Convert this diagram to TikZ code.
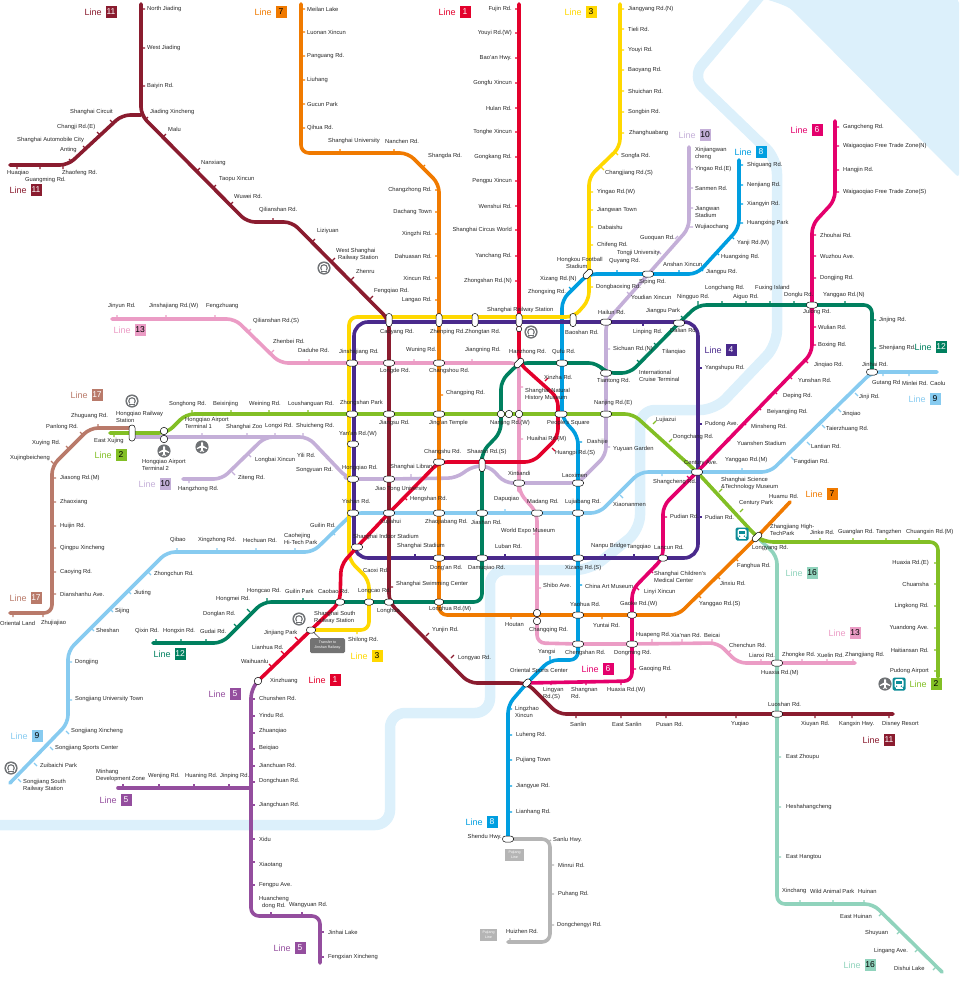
\documentclass[tikz,border=0pt]{standalone}
\usepackage{fontspec}
\setmainfont{Liberation Sans}
\usepackage{xcolor}
\usepackage{tikz}
\usetikzlibrary{positioning}
\definecolor{c1}{HTML}{E3002B}
\definecolor{c2}{HTML}{82BF25}
\definecolor{c3}{HTML}{FFD800}
\definecolor{c4}{HTML}{4A2A8C}
\definecolor{c5}{HTML}{944E9E}
\definecolor{c6}{HTML}{E4006C}
\definecolor{c7}{HTML}{F07A00}
\definecolor{c8}{HTML}{009EE0}
\definecolor{c9}{HTML}{87CBF0}
\definecolor{c10}{HTML}{C4AFD8}
\definecolor{c11}{HTML}{8A1C2F}
\definecolor{c12}{HTML}{00805F}
\definecolor{c13}{HTML}{EB9CC5}
\definecolor{c16}{HTML}{90D3BC}
\definecolor{c17}{HTML}{B97A6A}
\definecolor{cpu}{HTML}{B5B5B5}
\definecolor{cwater}{HTML}{DCF0FB}
\definecolor{cicon}{HTML}{6E7174}
\definecolor{cbus}{HTML}{0C8C97}
\pgfdeclarelayer{water}
\pgfdeclarelayer{lines}
\pgfsetlayers{water,lines,main}
\tikzset{
	metro/.style={line width=3.6pt,line cap=round,line join=round,rounded corners=8pt},
	tick/.style={line width=1.3pt},
	xbase/.style={draw=black,fill=white,line width=.5pt,inner sep=0pt,rounded corners=2.8pt},
	xwide/.style={xbase,minimum width=11pt,minimum height=6pt},
	xtall/.style={xbase,minimum width=6pt,minimum height=13pt},
	xtilt/.style={xwide,rotate=45},
	xring/.style={draw=black,fill=white,line width=.5pt,circle,inner sep=0pt,minimum size=7.5pt},
	stnw/.style={font=\fontsize{5.8}{7}\selectfont,inner sep=0pt,align=left,anchor=west,text=black!85},
	stne/.style={stnw,anchor=east,align=right},
	tagbox/.style={font=\fontsize{8.5}{8.5}\selectfont,inner sep=0pt,minimum width=11pt,minimum height=12pt},
	tagtxt/.style={font=\fontsize{9}{9}\selectfont,inner sep=0pt},
	note/.style={font=\fontsize{3.6}{5}\selectfont,text=white,inner sep=0pt,align=center}
}
\begin{document}
\begin{tikzpicture}[x=1pt,y=-1pt]
	\useasboundingbox (0,0) rectangle (959,983);
	%
	\node[xtall] (caoyang) at (389,320) {};
	\node[xtall] (zhenping) at (439,320) {};
	\node[xtall] (zhongtan) at (475,320) {};
	\node[xtall] (shrail) at (519,320) {};
	\node[xtall] (baoshan) at (573,320) {};
	\node[xring,minimum size=5.5pt] (shrailb) at (519,329) {};
	\node[xwide] (hailun) at (606,322) {};
	\node[xwide] (dalian) at (679,323) {};
	\node[xwide] (jinsha) at (352,363) {};
	\node[xwide] (longde) at (389,363) {};
	\node[xwide] (changshou) at (439,363) {};
	\node[xtilt] (hanzhong) at (519,363) {};
	\node[xwide] (qufu) at (562,363) {};
	\node[xwide] (tiantong) at (606,373) {};
	\node[xwide] (zhongshan) at (352,414) {};
	\node[xwide] (jiangsu) at (389,414) {};
	\node[xwide] (jingan) at (439,414) {};
	\node[xring] (nanjingwa) at (501,414) {};
	\node[xring] (nanjingwb) at (509,414) {};
	\node[xring] (nanjingwc) at (519,414) {};
	\node[xwide,minimum width=12pt] (peoples) at (561,414) {};
	\node[xwide] (nanjinge) at (606,414) {};
	\node[xwide] (yanan) at (353,444) {};
	\node[xwide] (changshu) at (439,462) {};
	\node[xtall] (shaanxi) at (482,465) {};
	\node[xwide] (hongqiaord) at (353,479) {};
	\node[xwide] (jiaotong) at (389,479) {};
	\node[xwide] (xintiandi) at (519,483) {};
	\node[xwide] (laoximen) at (578,483) {};
	\node[xwide] (yishan) at (353,513) {};
	\node[xwide] (xujiahui) at (389,513) {};
	\node[xwide] (zhaojiabang) at (439,513) {};
	\node[xwide] (jiashan) at (482,513) {};
	\node[xwide] (madang) at (537,513) {};
	\node[xwide] (lujiabang) at (578,513) {};
	\node[xwide] (indoor) at (357,547) {};
	\node[xwide] (dongan) at (439,558) {};
	\node[xwide] (damuqiao) at (482,558) {};
	\node[xwide] (xizangs) at (578,558) {};
	\node[xwide,minimum width=9pt] (caobao) at (340,602) {};
	\node[xwide,minimum width=9pt] (longcao) at (369,602) {};
	\node[xwide,minimum width=9pt] (longhua) at (389,602) {};
	\node[xwide,minimum width=9pt] (longhuam) at (439,602) {};
	\node[xring] (houtan) at (537,613) {};
	\node[xring] (changqing) at (537,621) {};
	\node[xwide] (yaohua) at (578,615) {};
	\node[xwide,minimum width=9pt] (gaoke) at (632,615) {};
	\node[xwide] (century) at (697,472) {};
	\node[xwide,minimum width=9pt] (lancun) at (663,558) {};
	\node[xtilt] (longyang) at (757,537) {};
	\node[xwide] (julong) at (812,305) {};
	\node[xwide] (jinhai) at (872,372) {};
	\node[xtilt] (hongkou) at (588,274) {};
	\node[xwide] (siping) at (648,274) {};
	\node[xtall,minimum height=16pt] (hqrail) at (132,433) {};
	\node[xring] (hqta) at (164,431) {};
	\node[xring] (hqtb) at (164,439) {};
	\node[xring] (xinzhuang) at (258,681) {};
	\node[xwide,minimum width=9pt] (jinjiang) at (311,630) {};
	\node[xwide] (chengshan) at (578,644) {};
	\node[xwide] (dongming) at (632,644) {};
	\node[xtilt,minimum width=9pt] (oriental) at (527,683) {};
	\node[xwide] (huaxiam) at (777,663) {};
	\node[xwide] (luoshan) at (777,714) {};
	\node[xwide] (shendu) at (508,839) {};
	%
	\coordinate (onetop) at (519,4);
	\coordinate (twowest) at (110,433);
	\coordinate (twoeast) at (938,677);
	\coordinate (threetop) at (620,4);
	\coordinate (fivewest) at (118,788);
	\coordinate (fiveend) at (320,963);
	\coordinate (sixtop) at (835,121);
	\coordinate (seventop) at (301,4);
	\coordinate (sevenend) at (790,502);
	\coordinate (eighttop) at (739,160);
	\coordinate (nineeast) at (937,372);
	\coordinate (nineend) at (10,783);
	\coordinate (tentop) at (689,147);
	\coordinate (tenwest) at (183,479);
	\coordinate (eleventop) at (141,4);
	\coordinate (elevenwest) at (10,165);
	\coordinate (eleveneast) at (893,714);
	\coordinate (twelvewest) at (153,643);
	\coordinate (thirteenwest) at (112,319);
	\coordinate (thirteeneast) at (855,663);
	\coordinate (sixteenend) at (942,972);
	\coordinate (seventeenend) at (10,613);
	\coordinate (pujiangend) at (508,942);
	\coordinate (fournw) at (354,322);
	\coordinate (fourne) at (698,322);
	\coordinate (fourse) at (698,558);
	\coordinate (foursw) at (354,558);
	%
	\begin{pgfonlayer}{water}
		\fill[cwater,rounded corners=4pt] (765,-1) -- (959,-1) -- (959,178) -- (790,8) -- (778,3) -- cycle;
		\draw[cwater,line width=10.5pt,rounded corners=15pt] (760,-4) -- (692,77) -- (777,159) -- (777,345) -- (715,410) -- (640,410) -- (640,530) -- (590,570) -- (490,570) -- (490,713) -- (390,713) -- (390,825) -- (-5,825);
	\end{pgfonlayer}
	%
	\begin{pgfonlayer}{lines}
		\draw[metro,cpu] (shendu.center) -- (550,839) -- (550,942) -- (pujiangend);
		\draw[metro,c16] (longyang.center) -- (777,556) -- (huaxiam.center) -- (luoshan.center) -- (777,904) -- (873,904) -- (sixteenend);
		\draw[metro,c17] ([yshift=5pt]hqrail.center) -- (90,428) -- (52,466) -- (52,613) -- (seventeenend);
		\draw[metro,c9] (nineeast) -- (jinhai.center) -- (770,472) -- (century.center) -- (640,472) -- (599,513) -- (lujiabang.center) -- (madang.center) -- (jiashan.center) -- (zhaojiabang.center) -- (xujiahui.center) -- (yishan.center) -- (313,552) -- (167,552) -- (68,651) -- (68,723) -- (nineend);
		\draw[metro,c10] (tentop) -- (689,228) -- (hailun.center) -- (tiantong.center) -- (nanjinge.center) -- (606,455) -- (laoximen.center) -- (xintiandi.center) -- (505,483) -- (489,466) -- (473,466) -- (456,478) -- (jiaotong.center) -- (hongqiaord.center) -- (347,478) -- (308,437) -- ([yshift=-4pt]hqrail.center);
		\draw[metro,c10] (tenwest) -- (222,479) -- (265,437) -- (290,437);
		\draw[metro,c13] (thirteenwest) -- (235,319) -- (280,363) -- (jinsha.center) -- (longde.center) -- (changshou.center) -- (hanzhong.center) -- (nanjingwc.center) -- (xintiandi.center) -- (519,492) -- (madang.center) -- (houtan.center) -- (changqing.center) -- (537,643) -- (chengshan.center) -- (dongming.center) -- (718,643) -- (738,663) -- (huaxiam.center) -- (thirteeneast);
		\draw[metro,c12] (jinhai.center) -- (872,305) -- (julong.center) -- (698,305) -- (dalian.center) -- (630,373) -- (tiantong.center) -- (597,363) -- (qufu.center) -- (hanzhong.center) -- (501,381) -- (nanjingwa.center) -- (501,432) -- (482,452) -- (shaanxi.center) -- (jiashan.center) -- (damuqiao.center) -- (482,602) -- (longhuam.center) -- (longhua.center) -- (longcao.center) -- (caobao.center) -- (263,602) -- (222,643) -- (twelvewest);
		\draw[metro,c7] (seventop) -- (301,153) -- (408,153) -- (439,184) -- (zhenping.center) -- (changshou.center) -- (jingan.center) -- (changshu.center) -- (zhaojiabang.center) -- (dongan.center) -- (longhuam.center) -- (439,615) -- (gaoke.center) -- (678,615) -- (longyang.center) -- (sevenend);
		\draw[metro,c8] (eighttop) -- (739,228) -- (697,274) -- (siping.center) -- (hongkou.center) -- (562,300) -- (qufu.center) -- (562,418) -- (578,436) -- (laoximen.center) -- (lujiabang.center) -- (xizangs.center) -- (yaohua.center) -- (chengshan.center) -- (578,660) -- (550,660) -- (oriental.center) -- (508,705) -- (shendu.center);
		\draw[metro,c2] (twowest) -- (hqrail.center) -- (167,433) -- (186,414) -- (zhongshan.center) -- (jiangsu.center) -- (jingan.center) -- (nanjingwa.center) -- (nanjingwb.center) -- (nanjingwc.center) -- (peoples.center) -- (nanjinge.center) -- (633,414) -- (century.center) -- (longyang.center) -- (765,542) -- (938,542) -- (twoeast);
		\draw[metro,c3] (jinjiang.center) -- (369,630) -- (longcao.center) -- (369,580) -- (349,560) -- (349,317) -- (574,317) -- (589,300) -- (589,177) -- (620,147) -- (threetop);
		\draw[metro,c4,rounded corners=14pt] (fournw) -- (fourne) -- (fourse) -- (foursw) -- cycle;
		\draw[metro,c11] (eleventop) -- (141,115) -- (247,222) -- (292,222) -- (caoyang.center) -- (longde.center) -- (jiangsu.center) -- (jiaotong.center) -- (xujiahui.center) -- (longhua.center) -- (469,683) -- (oriental.center) -- (558,714) -- (luoshan.center) -- (eleveneast);
		\draw[metro,c11] (elevenwest) -- (68,165) -- (122,115) -- (141,115);
		\draw[metro,c5] (xinzhuang.center) -- (251,690) -- (251,916) -- (320,916) -- (fiveend);
		\draw[metro,c5] (fivewest) -- (251,788);
		\draw[metro,c6] (sixtop) -- (835,200) -- (812,225) -- (julong.center) -- (812,353) -- (century.center) -- (663,506) -- (lancun.center) -- (632,590) -- (gaoke.center) -- (dongming.center) -- (632,681) -- (oriental.center);
		\draw[metro,c1] (onetop) -- (shrail.center) -- (shrailb.center) -- (hanzhong.center) -- (558,398) -- (558,437) -- (533,462) -- (shaanxi.center |- changshu.center) -- (changshu.center) -- (xujiahui.center) -- (indoor.center) -- (341,565) -- (caobao.center) -- (jinjiang.center) -- (xinzhuang.center);
		%
		\draw[tick,c1] \foreach \y in {9,33,58,83,108,132,157,181,206,230,256,281} {(519,\y) -- +(-4,0)} (545,381) -- +(3,-3) (552,448) -- +(3,3) (558,439) -- +(-3,-3) (407,500) -- +(-3,-3) (284,654) -- +(-3,-3) (272,667) -- +(-3,-3) (298,640) -- +(-3,-3);
		\draw[tick,c2] \foreach \x in {192,231,269,308} {(\x,414) -- +(0,-4)} \foreach \x in {820,853,886,919} {(\x,542) -- +(0,-4)} \foreach \y in {563,584,606,628,650,671} {(938,\y) -- +(-4,0)} (114,433) -- +(0,4) (653,424) -- +(3,-3) (669,442) -- +(3,-3) (719,492) -- +(3,-3) (740,512) -- +(3,-3);
		\draw[tick,c3] \foreach \y in {9,29,50,70,91,112,133} {(620,\y) -- +(4,0)} \foreach \y in {192,210,227,245,287} {(589,\y) -- +(4,0)} (615,152) -- +(3,3) (601,167) -- +(3,3) (357,630) -- +(0,4) (356,567) -- +(3,3);
		\draw[tick,c4] \foreach \y in {368,424,517} {(698,\y) -- +(4,0)} \foreach \x in {415,505,605,634} {(\x,558) -- +(0,-4)} (643,322) -- +(0,4);
		\draw[tick,c5] \foreach \y in {699,716,733,749,766,782,805,839,862,885} {(251,\y) -- +(4,0)} \foreach \x in {123,159,194,229} {(\x,788) -- +(0,-4)} \foreach \x in {271,302} {(\x,916) -- +(0,-4)} \foreach \y in {932,957} {(320,\y) -- +(4,0)};
		\draw[tick,c6] \foreach \y in {127,146,170,192} {(835,\y) -- +(4,0)} \foreach \y in {235,256,278,327,345} {(812,\y) -- +(4,0)} \foreach \x/\y in {805/360,789/376,774/391,758/407,743/422,727/438} {(\x,\y) -- +(3,3)} \foreach \x in {551,586,621} {(\x,681) -- +(0,4)} (663,517) -- +(4,0) (632,669) -- +(4,0) (690,479) -- +(-3,-3) (636,587) -- +(3,3) (650,570) -- +(3,3);
		\draw[tick,c7] \foreach \y in {9,32,56,80,104,128} {(301,\y) -- +(4,0)} \foreach \x in {340,394} {(\x,153) -- +(0,-4)} \foreach \y in {190,212,234,256,278,300} {(439,\y) -- +(-4,0)} \foreach \x in {511,602} {(\x,615) -- +(0,4)} (422,168) -- +(3,-3) (439,395) -- +(4,0) (735,558) -- +(3,3) (717,576) -- +(3,3) (698,595) -- +(3,3);
		\draw[tick,c8] \foreach \y in {165,185,204,223} {(739,\y) -- +(4,0)} \foreach \x in {617,679} {(\x,274) -- +(0,-4)} \foreach \y in {735,760,786,812,709} {(508,\y) -- +(4,0)} (731,236) -- +(3,3) (716,252) -- +(3,3) (700,268) -- +(3,3) (572,290) -- +(-3,-3) (578,442) -- +(4,0) (578,585) -- +(4,0) (550,660) -- +(0,-4);
		\draw[tick,c9] \foreach \x in {177,217,256,295} {(\x,552) -- +(0,-4)} \foreach \x/\y in {148/572,128/591,110/609,91/628,66/731,50/747,34/763,18/779,791/457,807/442,822/425,838/409,855/393,332/532,620/495} {(\x,\y) -- +(3,3)} \foreach \y in {662,700} {(68,\y) -- +(4,0)} \foreach \x in {883,909} {(\x,372) -- +(0,4)} (742,472) -- +(0,-4) (662,472) -- +(0,4) (505,513) -- +(0,-4);
		\draw[tick,c10] \foreach \y in {169,188,208,227} {(689,\y) -- +(4,0)} \foreach \x in {202,247,275,303} {(\x,437) -- +(0,-4)} (606,349) -- +(4,0) (606,447) -- +(4,0) (411,478) -- +(0,-4) (189,479) -- +(0,4) (678,236) -- +(-3,3) (661,254) -- +(-3,-3) (627,292) -- +(3,3) (317,446) -- +(3,3) (331,461) -- +(3,3) (248,454) -- +(3,3) (232,472) -- +(3,3);
		\draw[tick,c11] \foreach \y in {9,48,86} {(141,\y) -- +(4,0)} \foreach \x/\y in {163/137,197/171,213/188,230/205,312/242,332/261,351/280,370/299,145/120} {(\x,\y) -- +(3,-3)} \foreach \x/\y in {113/123,100/135,86/149,72/162} {(\x,\y) -- +(-3,-3)} \foreach \x in {17,40,63} {(\x,165) -- +(0,4)} \foreach \x in {576,621,666,736,815,852,889} {(\x,714) -- +(0,4)} (273,222) -- +(0,-4) (389,587) -- +(4,0) (426,636) -- +(3,-3) (451,658) -- +(3,-3);
		\draw[tick,c12] \foreach \x in {698,722,746,770,794,845} {(\x,305) -- +(0,-4)} \foreach \y in {320,348} {(872,\y) -- +(4,0)} \foreach \x in {267,303} {(\x,602) -- +(0,-4)} \foreach \x in {156,181,206} {(\x,643) -- +(0,-4)} (684,319) -- +(-3,-3) (654,343) -- +(3,3) (637,360) -- +(3,3) (250,612) -- +(-3,-3) (237,627) -- +(-3,-3);
		\draw[tick,c13] \foreach \x in {117,166,215} {(\x,319) -- +(0,-4)} \foreach \x in {309,414,472} {(\x,363) -- +(0,-4)} \foreach \y in {387,439} {(519,\y) -- +(4,0)} \foreach \x in {652,682,712} {(\x,643) -- +(0,-4)} \foreach \x in {761,802,827,853} {(\x,663) -- +(0,-4)} (537,588) -- +(4,0) (537,534) -- +(-4,0) (248,332) -- +(3,-3) (271,353) -- +(3,-3) (728,653) -- +(3,-3);
		\draw[tick,c16] \foreach \y in {757,807,857} {(777,\y) -- +(4,0)} \foreach \x in {800,833,864} {(\x,904) -- +(0,-4)} \foreach \x/\y in {879/916,897/934,915/952,933/970} {(\x,\y) -- +(3,-3)};
		\draw[tick,c17] \foreach \y in {478,502,526,548,572,594} {(52,\y) -- +(4,0)} \foreach \x in {13,43} {(\x,613) -- +(0,4)} (98,428) -- +(0,-4) (83,435) -- +(-3,-3) (69,449) -- +(-3,-3) (54,464) -- +(-3,-3);
		\draw[tick,cpu] \foreach \y in {865,894,925} {(550,\y) -- +(4,0)} (547,843) -- +(4,-3) (510,942) -- +(0,-4);
	\end{pgfonlayer}
	%
	\foreach \x/\y/\stn [count=\i] in {509/352/Hanzhong Rd., 544/377/Xinzha Rd., 525/394/{Shanghai Natural\\History Museum}, 527/439/Huaihai Rd.(M), 555/453/Huangpi Rd.(S), 467/452/Shaanxi Rd.(S), 424/452/Changshu Rd., 410/499/Hengshan Rd., 380/522/Xujiahui, 353/537/Shanghai Indoor Stadium, 318/591/Caobao Rd., 314/617/{Shanghai South\\Railway Station}, 264/633/Jinjiang Park, 252/647/Lianhua Rd., 241/661/Waihuanlu, 270/681/Xinzhuang}
		\node[stnw] (one\i) at (\x,\y) {\stn};
	\foreach \y/\stn [count=\i] in {9/Fujin Rd., 33/Youyi Rd.(W), 58/Bao'an Hwy., 83/Gongfu Xincun, 108/Hulan Rd., 132/Tonghe Xincun, 157/Gongkang Rd., 181/Pengpu Xincun, 206/Wenshui Rd., 230/Shanghai Circus World, 256/Yanchang Rd., 281/Zhongshan Rd.(N)}
		\node[stne] (onee\i) at (512,\y) {\stn};
	%
	\foreach \x/\y/\stn [count=\i] in {340/403/Zhongshan Park, 379/423/Jiangsu Rd., 429/423/Jing'an Temple, 490/423/Nanjing Rd.(W), 547/423/People's Square, 594/403/Nanjing Rd.(E), 656/420/Lujiazui, 673/437/Dongchang Rd., 684/463/Century Ave., 721/483/{Shanghai Science\\\&Technology Museum}, 739/503/Century Park, 810/532/Jinke Rd., 838/532/Guanglan Rd., 876/532/Tangzhen, 906/532/Chuangxin Rd.(M), 169/404/Songhong Rd., 213/404/Beixinjing, 249/404/Weining Rd., 288/404/Loushanguan Rd., 185/423/{Hongqiao Airport\\Terminal 1}, 94/441/East Xujing, 116/417/{Hongqiao Railway\\Station}, 142/465/{Hongqiao Airport\\Terminal 2}}
		\node[stnw] (two\i) at (\x,\y) {\stn};
	\foreach \y/\stn [count=\i] in {563/Huaxia Rd.(E), 584/Chuansha, 606/Lingkong Rd., 628/Yuandong Ave., 650/Haitiansan Rd., 671/Pudong Airport}
		\node[stne] (twoe\i) at (929,\y) {\stn};
	%
	\foreach \x/\y/\stn [count=\i] in {628/9/Jiangyang Rd.(N), 628/29/Tieli Rd., 628/50/Youyi Rd., 628/70/Baoyang Rd., 628/91/Shuichan Rd., 628/112/Songbin Rd., 629/133/Zhanghuabang, 621/156/Songfa Rd., 605/173/Changjiang Rd.(S), 597/192/Yingao Rd.(W), 597/210/Jiangwan Town, 598/227/Dabaishu, 597/245/Chifeng Rd., 557/263/{Hongkou Football\\\hspace{9pt}Stadium}, 596/287/Dongbaoxing Rd., 565/332/Baoshan Rd., 487/310/Shanghai Railway Station, 465/332/Zhongtan Rd., 430/332/Zhenping Rd., 339/434/Yan'an Rd.(W), 342/468/Hongqiao Rd., 342/501/Yishan Rd., 363/570/Caoxi Rd., 358/591/Longcao Rd., 348/640/Shilong Rd.}
		\node[stnw] (three\i) at (\x,\y) {\stn};
	%
	\foreach \x/\y/\stn [count=\i] in {633/332/Linping Rd., 670/330/Dalian Rd., 705/368/Yangshupu Rd., 705/424/Pudong Ave., 705/517/Pudian Rd., 654/547/Lancun Rd., 591/546/Nanpu Bridge, 627/547/Tangqiao, 495/546/Luban Rd., 397/546/Shanghai Stadium, 430/568/Dong'an Rd., 468/568/Damuqiao Rd., 565/568/Xizang Rd.(S)}
		\node[stnw] (four\i) at (\x,\y) {\stn};
	%
	\foreach \x/\y/\stn [count=\i] in {259/698/Chunshen Rd., 259/715/Yindu Rd., 259/731/Zhuanqiao, 259/748/Beiqiao, 259/765/Jianchuan Rd., 259/781/Dongchuan Rd., 259/805/Jiangchuan Rd., 259/839/Xidu, 259/865/Xiaotang, 259/885/Fengpu Ave., 259/902/{Huancheng\\\hspace{3pt}dong Rd.}, 289/905/Wangyuan Rd., 328/932/Jinhai Lake, 328/957/Fengxian Xincheng, 96/775/{Minhang\\Development Zone}, 148/776/Wenjing Rd., 185/776/Huaning Rd., 220/776/Jinping Rd.}
		\node[stnw] (five\i) at (\x,\y) {\stn};
	%
	\foreach \x/\y/\stn [count=\i] in {843/127/Gangcheng Rd., 843/146/Waigaoqiao Free Trade Zone(N), 843/170/Hangjin Rd., 843/192/Waigaoqiao Free Trade Zone(S), 820/235/Zhouhai Rd., 820/256/Wuzhou Ave., 820/278/Dongjing Rd., 803/312/Julong Rd., 818/327/Wulian Rd., 818/345/Boxing Rd., 814/365/Jinqiao Rd., 798/380/Yunshan Rd., 783/396/Deping Rd., 767/412/Beiyangjing Rd., 751/427/Minsheng Rd., 737/443/Yuanshen Stadium, 653/482/Shangcheng Rd., 670/516/Pudian Rd., 654/577/{Shanghai Children's\\Medical Center}, 644/592/Linyi Xincun, 620/604/Gaoke Rd.(W), 614/653/Dongming Rd., 639/669/Gaoqing Rd., 607/690/Huaxia Rd.(W), 571/693/{Shangnan\\Rd.}, 543/693/{Lingyan\\Rd.(S)}}
		\node[stnw] (six\i) at (\x,\y) {\stn};
	%
	\foreach \x/\y/\stn [count=\i] in {307/9/Meilan Lake, 307/32/Luonan Xincun, 307/56/Panguang Rd., 307/80/Liuhang, 307/104/Gucun Park, 307/128/Qihua Rd., 328/141/Shanghai University, 385/141/Nanchen Rd., 428/156/Shangda Rd., 505/625/Houtan, 593/625/Yuntai Rd., 769/496/Huamu Rd., 770/530/{Zhangjiang High-\\TechPark}, 752/548/Longyang Rd., 737/566/Fanghua Rd., 720/583/Jinxiu Rd., 699/604/Yanggao Rd.(S), 429/609/Longhua Rd.(M), 446/393/Changping Rd.}
		\node[stnw] (seven\i) at (\x,\y) {\stn};
	\foreach \y/\stn [count=\i] in {190/Changzhong Rd., 212/Dachang Town, 234/Xingzhi Rd., 256/Dahuasan Rd., 278/Xincun Rd., 300/Langao Rd.}
		\node[stne] (sevene\i) at (432,\y) {\stn};
	%
	\foreach \x/\y/\stn [count=\i] in {747/165/Shiguang Rd., 747/185/Nenjiang Rd., 747/204/Xiangyin Rd., 747/223/Huangxing Park, 737/243/Yanji Rd.(M), 721/257/Huangxing Rd., 706/272/Jiangpu Rd., 663/264/Anshan Xincun, 540/279/Xizang Rd.(N), 528/292/Zhongxing Rd., 552/352/Qufu Rd., 587/442/Dashijie, 565/502/Lujiabang Rd., 570/604/Yaohua Rd., 585/586/China Art Museum, 565/653/Chengshan Rd., 538/652/Yangsi, 510/671/Oriental Sports Center, 515/712/{Lingzhao\\Xincun}, 516/735/Luheng Rd., 516/760/Pujiang Town, 516/786/Jiangyue Rd., 516/812/Lianhang Rd., 553/840/Sanlu Hwy., 558/865/Minrui Rd., 558/894/Puhang Rd., 557/925/Dongchengyi Rd., 506/931/Huizhen Rd.}
		\node[stnw] (eight\i) at (\x,\y) {\stn};
	\node[stne] (shenduhwy) at (502,837) {Shendu Hwy.};
	%
	\foreach \x/\y/\stn [count=\i] in {310/525/Guilin Rd., 284/539/{Caohejing\\Hi-Tech Park}, 243/540/Hechuan Rd., 198/540/Xingzhong Rd., 170/540/Qibao, 154/574/Zhongchun Rd., 134/593/Jiuting, 115/611/Sijing, 96/630/Sheshan, 75/662/Dongjing, 75/699/Songjiang University Town, 71/731/Songjiang Xincheng, 55/748/Songjiang Sports Center, 40/765/Zuibaichi Park, 23/785/{Songjiang South\\Railway Station}, 494/499/Dapuqiao, 613/504/Xiaonanmen, 425/522/Zhaojiabang Rd., 471/522/Jiashan Rd., 527/502/Madang Rd., 725/460/Yanggao Rd.(M), 794/462/Fangdian Rd., 811/446/Lantian Rd., 826/429/Taierzhuang Rd., 842/414/Jinqiao, 859/397/Jinji Rd., 872/383/Gutang Rd, 902/383/Minlei Rd., 930/383/Caolu, 862/364/Jinhai Rd.}
		\node[stnw] (nine\i) at (\x,\y) {\stn};
	%
	\foreach \x/\y/\stn [count=\i] in {695/153/{Xinjiangwan\\cheng}, 695/169/Yingao Rd.(E), 695/188/Sanmen Rd., 695/212/{Jiangwan\\Stadium}, 695/227/Wujiaochang, 640/238/Guoquan Rd., 617/253/Tongji University, 609/261/Quyang Rd., 639/282/Siping Rd., 631/297/Youdian Xincun, 598/312/Hailun Rd., 613/349/Sichuan Rd.(N), 597/381/Tiantong Rd., 613/449/Yuyuan Garden, 562/475/Laoximen, 508/473/Xintiandi, 390/467/Shanghai Library, 375/489/Jiao Tong University, 296/426/Shuicheng Rd., 265/426/Longxi Rd., 226/427/Shanghai Zoo, 297/455/Yili Rd., 296/470/Songyuan Rd., 255/460/Longbai Xincun, 238/478/Ziteng Rd., 178/489/Hangzhong Rd.}
		\node[stnw] (ten\i) at (\x,\y) {\stn};
	%
	\foreach \x/\y/\stn [count=\i] in {147/9/North Jiading, 147/48/West Jiading, 147/86/Baiyin Rd., 150/112/Jiading Xincheng, 168/129/Malu, 201/163/Nanxiang, 219/179/Taopu Xincun, 234/196/Wuwei Rd., 259/210/Qilianshan Rd., 317/231/Liziyuan, 336/254/{West Shanghai\\\hspace{2pt}Railway Station}, 356/271/Zhenru, 374/291/Fengqiao Rd., 70/112/Shanghai Circuit, 57/127/Changji Rd.(E), 17/140/Shanghai Automobile City, 60/150/Anting, 62/173/Zhaofeng Rd., 7/173/Huaqiao, 25/180/Guangming Rd., 380/332/Caoyang Rd., 432/630/Yunjin Rd., 377/611/Longhua, 396/584/Shanghai Swimming Center, 458/658/Longyao Rd., 570/724/Sanlin, 612/724/East Sanlin, 656/724/Pusan Rd., 731/724/Yuqiao, 768/704/Luoshan Rd., 801/724/Xiuyan Rd., 839/724/Kangxin Hwy., 882/724/Disney Resort}
		\node[stnw] (eleven\i) at (\x,\y) {\stn};
	%
	\foreach \x/\y/\stn [count=\i] in {879/320/Jinjing Rd., 879/348/Shenjiang Rd., 784/295/Donglu Rd., 823/295/Yanggao Rd.(N), 755/288/Fuxing Island, 733/297/Aiguo Rd., 705/288/Longchang Rd., 677/297/Ningguo Rd., 646/311/Jiangpu Park, 662/352/Tilanqiao, 639/376/{International\\Cruise Terminal}, 247/591/Hongcao Rd., 285/591/Guilin Park, 216/599/Hongmei Rd., 203/614/Donglan Rd., 200/631/Gudai Rd., 163/631/Hongxin Rd., 135/631/Qixin Rd.}
		\node[stnw] (twelve\i) at (\x,\y) {\stn};
	%
	\foreach \x/\y/\stn [count=\i] in {108/306/Jinyun Rd., 149/306/Jinshajiang Rd.(W), 206/306/Fengzhuang, 253/321/Qilianshan Rd.(S), 273/341/Zhenbei Rd., 298/350/Daduhe Rd., 339/352/Jinshajiang Rd., 406/350/Wuning Rd., 465/350/Jiangning Rd., 429/371/Changshou Rd., 380/371/Longde Rd., 501/531/World Expo Museum, 543/585/Shibo Ave., 529/630/Changqing Rd., 636/635/Huapeng Rd., 671/635/Xia'nan Rd., 704/635/Beicai, 729/645/Chenchun Rd., 749/655/Lianxi Rd., 782/655/Zhongke Rd., 817/655/Xuelin Rd., 845/655/Zhangjiang Rd., 761/673/Huaxia Rd.(M)}
		\node[stnw] (thirteen\i) at (\x,\y) {\stn};
	%
	\foreach \x/\y/\stn [count=\i] in {786/757/East Zhoupu, 786/807/Heshahangcheng, 786/857/East Hangtou, 782/891/Xinchang, 810/891/Wild Animal Park, 858/891/Huinan, 840/916/East Huinan, 865/933/Shuyuan, 874/951/Lingang Ave., 894/968/Dishui Lake}
		\node[stnw] (sixteen\i) at (\x,\y) {\stn};
	%
	\foreach \x/\y/\stn [count=\i] in {71/416/Zhuguang Rd., 46/427/Panlong Rd., 32/443/Xuying Rd., 10/458/Xujingbeicheng, 60/478/Jiasong Rd.(M), 60/502/Zhaoxiang, 60/526/Huijin Rd., 60/548/Qingpu Xincheng, 60/572/Caoying Rd., 60/594/Dianshanhu Ave., 0/623/Oriental Land, 41/623/Zhujiajiao}
		\node[stnw] (seventeen\i) at (\x,\y) {\stn};
	%
	\foreach \x/\y/\c/\n/\f [count=\i] in {111/12/c11/11/white, 36/190/c11/11/white, 281/12/c7/7/black, 465/12/c1/1/white, 591/12/c3/3/black, 705/135/c10/10/black, 761/152/c8/8/white, 817/130/c6/6/white, 140/330/c13/13/black, 97/395/c17/17/white, 121/455/c2/2/black, 165/484/c10/10/black, 36/598/c17/17/white, 731/350/c4/4/white, 941/347/c12/12/white, 935/399/c9/9/black, 832/494/c7/7/black, 812/573/c16/16/black, 855/633/c13/13/black, 936/684/c2/2/black, 889/740/c11/11/white, 608/669/c6/6/white, 492/822/c8/8/white, 870/965/c16/16/black, 180/654/c12/12/white, 377/656/c3/3/black, 335/680/c1/1/white, 235/694/c5/5/white, 37/736/c9/9/black, 126/800/c5/5/white, 300/948/c5/5/white} {
		\node[tagbox,fill=\c,text=\f] (tag\i) at (\x,\y) {\n};
		\node[tagtxt,text=\c,left=3.5pt of tag\i] (tagl\i) {Line};
	}
	%
	\foreach \x/\y in {324/268,132/401,531/332,299/619,11/768} {
		\fill[cicon] (\x,\y) circle[radius=6.6];
		\fill[white] (\x,\y) circle[radius=5.2];
		\draw[cicon,line width=1.1pt] ([shift={(-2.3,2.3)}]\x,\y) arc[start angle=135,delta angle=270,radius=3.25];
		\draw[cicon,line width=.8pt] ([shift={(-2.8,3.2)}]\x,\y) -- +(5.6,0);
	}
	\foreach \x/\y in {164/451,202/447,885/684} {
		\fill[cicon] (\x,\y) circle[radius=6.6];
		\fill[white,shift={(\x,\y)}] (0,-5.3) -- (1,-3.8) -- (1,-1.4) -- (5.2,1) -- (5.2,2.1) -- (1,.7) -- (.8,3.2) -- (2.1,4.2) -- (2.1,4.9) -- (0,4.2) -- (-2.1,4.9) -- (-2.1,4.2) -- (-.8,3.2) -- (-1,.7) -- (-5.2,2.1) -- (-5.2,1) -- (-1,-1.4) -- (-1,-3.8) -- cycle;
	}
	\foreach \x/\y in {742/534,899/684} {
		\fill[cbus,rounded corners=1.5pt] ([shift={(-6.5,-6.5)}]\x,\y) rectangle +(13,13);
		\fill[white,rounded corners=1.5pt] ([shift={(-4.5,-4.8)}]\x,\y) rectangle +(9,8.6);
		\fill[cbus] ([shift={(-3.2,-2.8)}]\x,\y) rectangle +(6.4,3);
		\fill[cbus] ([shift={(-2.4,2.2)}]\x,\y) circle[radius=.8] ([shift={(2.4,2.2)}]\x,\y) circle[radius=.8];
		\fill[white] ([shift={(-3.5,4.4)}]\x,\y) rectangle +(7,.9);
	}
	%
	\node[note,fill=black!55,rounded corners=1.5pt,minimum width=35pt,minimum height=15pt] (jinshan) at (327.5,645.5) {Transfer to\\Jinshan Railway};
	\begin{pgfonlayer}{lines}
		\draw[black!55,line width=.8pt] (jinjiang.center) -- (jinshan.center);
	\end{pgfonlayer}
	\node[note,fill=cpu,minimum width=19pt,minimum height=12pt] (pujianga) at (514.5,854.5) {Pujiang\\Line};
	\node[note,fill=cpu,minimum width=17pt,minimum height=12pt] (pujiangb) at (488.5,935) {Pujiang\\Line};
\end{tikzpicture}
\end{document}
